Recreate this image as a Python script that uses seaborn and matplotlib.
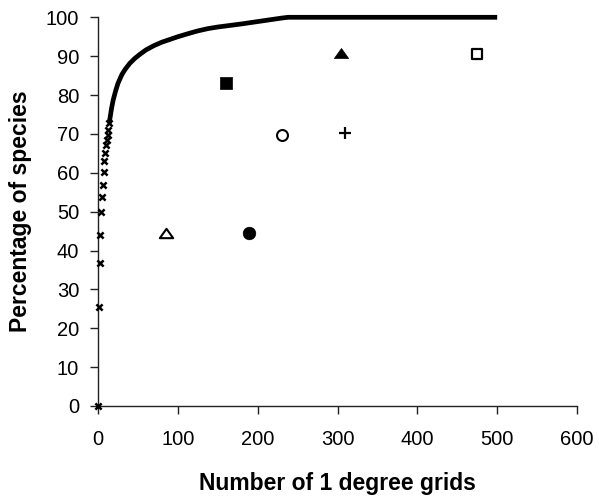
import numpy as np
import pandas as pd
import matplotlib
matplotlib.use("Agg")
import matplotlib.pyplot as plt
from matplotlib.path import Path
import seaborn as sns

# Accumulation curve: sparse start (individual markers)
start_x = [0, 1, 2, 3, 4, 5, 6, 7, 8, 9, 10, 11, 12, 13, 14]
start_y = [0, 25.4, 36.8, 44.1, 50.0, 53.7, 56.9, 60.2, 63.0, 65.2, 67.1, 68.4, 69.7, 71.0, 72.7]

# Accumulation curve: dense part
curve_x = [14, 15, 17, 19, 22, 25, 30, 34, 40, 46, 52, 60, 70, 80, 90, 100, 113, 125,
           138, 150, 165, 180, 200, 220, 230, 238, 300, 400, 500]
curve_y = [72.7, 74.0, 76.6, 78.7, 81.0, 83.0, 85.3, 86.6, 88.2, 89.4, 90.4, 91.6,
           92.7, 93.6, 94.3, 95.0, 95.8, 96.5, 97.1, 97.5, 97.9, 98.3, 98.9, 99.5,
           99.8, 100, 100, 100, 100]

# Individual method points
pt_names = ["open_triangle", "filled_circle", "filled_square", "open_circle",
            "plus", "filled_triangle", "open_square"]
pt_x = [85, 189, 160, 230, 310, 305, 475]
pt_y = [44.5, 44.5, 83.0, 69.8, 70.3, 90.8, 90.5]

x_ticks = [0, 100, 200, 300, 400, 500, 600]
y_ticks = [0, 10, 20, 30, 40, 50, 60, 70, 80, 90, 100]
x_label = "Number of 1 degree grids"
y_label = "Percentage of species"

sns.set_style("ticks")
plt.rcParams['font.family'] = ['Liberation Sans', 'DejaVu Sans']
plt.rcParams['text.color'] = 'black'
plt.rcParams['axes.labelcolor'] = 'black'

fig = plt.figure(figsize=(5.99, 4.97), dpi=100)
ax = fig.add_axes([0.1636, 0.1831, 0.9633 - 0.1636, 0.9652 - 0.1831])

# dense curve
sns.lineplot(x=curve_x, y=curve_y, ax=ax, color="black", linewidth=3.4,
             sort=False, estimator=None, clip_on=False, solid_capstyle="butt")
# sparse start as x markers
sns.scatterplot(x=start_x, y=start_y, ax=ax, marker="x", s=20, color="black",
                linewidth=1.8, clip_on=False, zorder=5)

tri = Path([(-1, -0.7), (1, -0.7), (0, 0.7), (-1, -0.7)],
           [Path.MOVETO, Path.LINETO, Path.LINETO, Path.CLOSEPOLY])

styles = {
    "open_triangle":   dict(marker=tri, s=92, facecolor="white", edgecolor="black", linewidth=1.5),
    "filled_circle":   dict(marker="o", s=82, facecolor="black", edgecolor="black", linewidth=0.5),
    "filled_square":   dict(marker="s", s=80, facecolor="black", edgecolor="black", linewidth=0.5),
    "open_circle":     dict(marker="o", s=62, facecolor="white", edgecolor="black", linewidth=1.5),
    "plus":            dict(marker="+", s=70, color="black", linewidth=1.6),
    "filled_triangle": dict(marker=tri, s=106, facecolor="black", edgecolor="black", linewidth=0.5),
    "open_square":     dict(marker="s", s=56, facecolor="white", edgecolor="black", linewidth=1.6),
}
for name, x, y in zip(pt_names, pt_x, pt_y):
    sns.scatterplot(x=[x], y=[y], ax=ax, zorder=6, **styles[name])

ax.set_xlim(0, 600)
ax.set_ylim(0, 100)
ax.set_xticks(x_ticks)
ax.set_yticks(y_ticks)
ax.set_xticklabels([str(v) for v in x_ticks])
ax.set_yticklabels([str(v) for v in y_ticks])
ax.tick_params(axis="x", length=6, width=1, colors="#222222", labelcolor="black",
               labelsize=14.5, pad=11.5)
ax.tick_params(axis="y", length=6, width=1, colors="#222222", labelcolor="black",
               labelsize=14.5, pad=7.5)
for side in ["top", "right"]:
    ax.spines[side].set_visible(False)
for side in ["left", "bottom"]:
    ax.spines[side].set_color("#222222")
    ax.spines[side].set_linewidth(1)

ax.set_xlabel(x_label, fontsize=16.5, fontweight="bold", labelpad=16, color="black")
ax.set_ylabel(y_label, fontsize=16.5, fontweight="bold", labelpad=10, color="black")

fig.savefig("out.png", dpi=100)
